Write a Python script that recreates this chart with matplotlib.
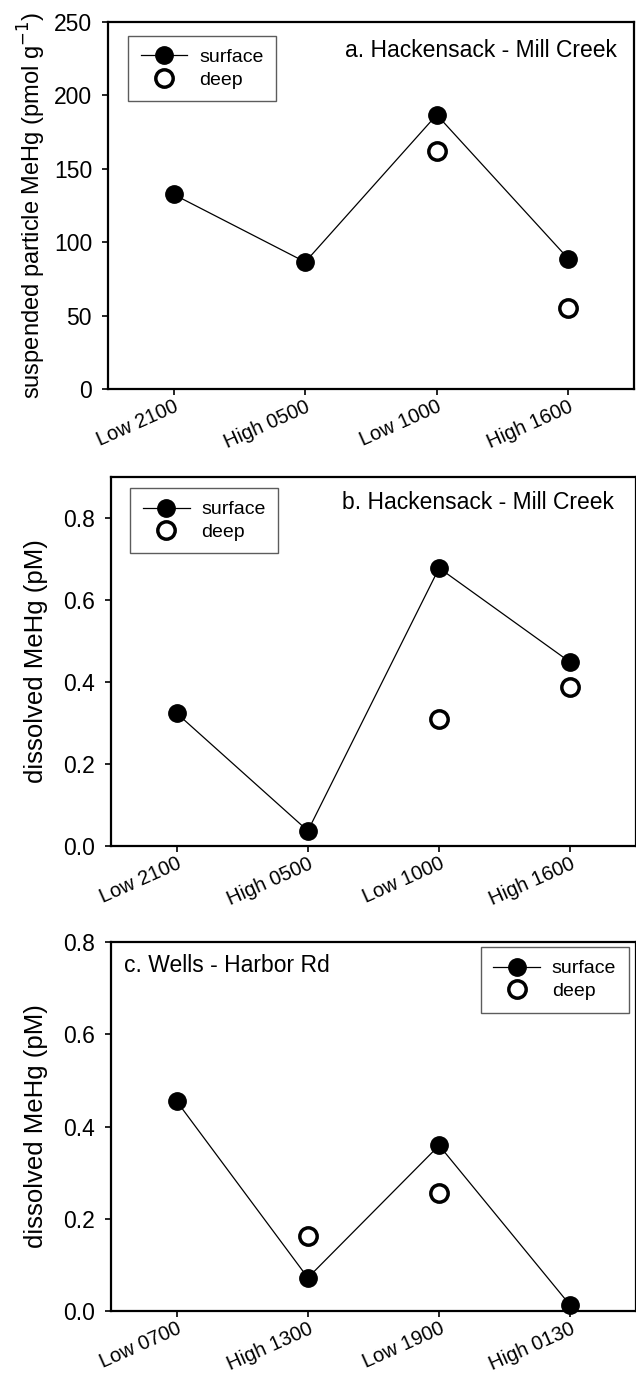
import numpy as np
import matplotlib
matplotlib.use("Agg")
import matplotlib.pyplot as plt
from matplotlib.lines import Line2D

plt.rcParams["font.family"] = ["Liberation Sans", "DejaVu Sans"]

# --- data ---
labels_ab = ["Low 2100", "High 0500", "Low 1000", "High 1600"]
labels_c = ["Low 0700", "High 1300", "Low 1900", "High 0130"]

part_surface = [132.5, 86.5, 186.8, 88.8]
part_deep = [np.nan, np.nan, 162.4, 55.5]

diss_b_surface = [0.324, 0.037, 0.678, 0.448]
diss_b_deep = [np.nan, np.nan, 0.309, 0.387]

diss_c_surface = [0.455, 0.072, 0.359, 0.012]
diss_c_deep = [np.nan, 0.162, 0.256, np.nan]

W, H = 636, 1373
fig = plt.figure(figsize=(W / 100, H / 100), dpi=100)


def px_axes(left, right, top, bottom):
    return fig.add_axes([left / W, 1 - bottom / H, (right - left) / W, (bottom - top) / H])


def panel(ax, labels, surf, deep, ylim, yticks, fmt, ylabel, ylab_size, ylab_pad,
          title, title_xy, title_ha, leg_loc, leg_anchor):
    x = np.arange(1, len(labels) + 1)
    ax.plot(x, surf, "-", color="k", lw=0.9, marker="o", ms=12.5,
            mfc="k", mec="k", clip_on=False, zorder=3)
    ax.plot(x, deep, "o", ms=12.5, mfc="white", mec="k", mew=2.5,
            ls="none", clip_on=False, zorder=4)
    ax.set_xlim(0.5, len(labels) + 0.5)
    ax.set_ylim(*ylim)
    ax.set_yticks(yticks)
    ax.set_yticklabels([fmt.format(v) for v in yticks], fontsize=16.5)
    ax.set_xticks(x)
    ax.set_xticklabels(labels, fontsize=14.5, rotation=24, ha="right",
                       va="top", rotation_mode="anchor")
    ax.tick_params(axis="both", direction="out", length=4.5, width=1.2,
                   top=False, right=False)
    ax.tick_params(axis="y", pad=7)
    ax.tick_params(axis="x", pad=1.5)
    for s in ax.spines.values():
        s.set_linewidth(1.6)
    ax.set_ylabel(ylabel, fontsize=ylab_size, labelpad=ylab_pad)
    ax.text(title_xy[0], title_xy[1], title, transform=ax.transAxes,
            ha=title_ha, va="center", fontsize=16.5)

    handles = [
        Line2D([], [], color="k", lw=0.9, marker="o", ms=12.5, mfc="k", mec="k"),
        Line2D([], [], ls="none", marker="o", ms=12.5, mfc="white", mec="k", mew=2.5),
    ]
    leg = ax.legend(handles, ["surface", "deep"], loc=leg_loc,
                    bbox_to_anchor=leg_anchor, borderaxespad=0, fontsize=14,
                    frameon=True, fancybox=False, handlelength=2.4,
                    handletextpad=0.6, labelspacing=0.25, borderpad=0.65)
    leg.get_frame().set_edgecolor("#333333")
    leg.get_frame().set_linewidth(1.0)


ax_a = px_axes(108, 634, 22, 389)
panel(ax_a, labels_ab, part_surface, part_deep, (0, 250), [0, 50, 100, 150, 200, 250],
      "{:.0f}", "suspended particle MeHg (pmol g$^{-1}$)", 17, 4,
      "a. Hackensack - Mill Creek", (0.968, 0.921), "right",
      "upper left", (0.038, 0.962))

ax_b = px_axes(111, 636, 477, 846)
panel(ax_b, labels_ab, diss_b_surface, diss_b_deep, (0, 0.9), [0.0, 0.2, 0.4, 0.6, 0.8],
      "{:.1f}", "dissolved MeHg (pM)", 18.5, 11,
      "b. Hackensack - Mill Creek", (0.957, 0.930), "right",
      "upper left", (0.037, 0.970))

ax_c = px_axes(111, 636, 942, 1311)
panel(ax_c, labels_c, diss_c_surface, diss_c_deep, (0, 0.8), [0.0, 0.2, 0.4, 0.6, 0.8],
      "{:.1f}", "dissolved MeHg (pM)", 18.5, 11,
      "c. Wells - Harbor Rd", (0.024, 0.937), "left",
      "upper right", (0.986, 0.986))

fig.savefig("out.png", dpi=100)
